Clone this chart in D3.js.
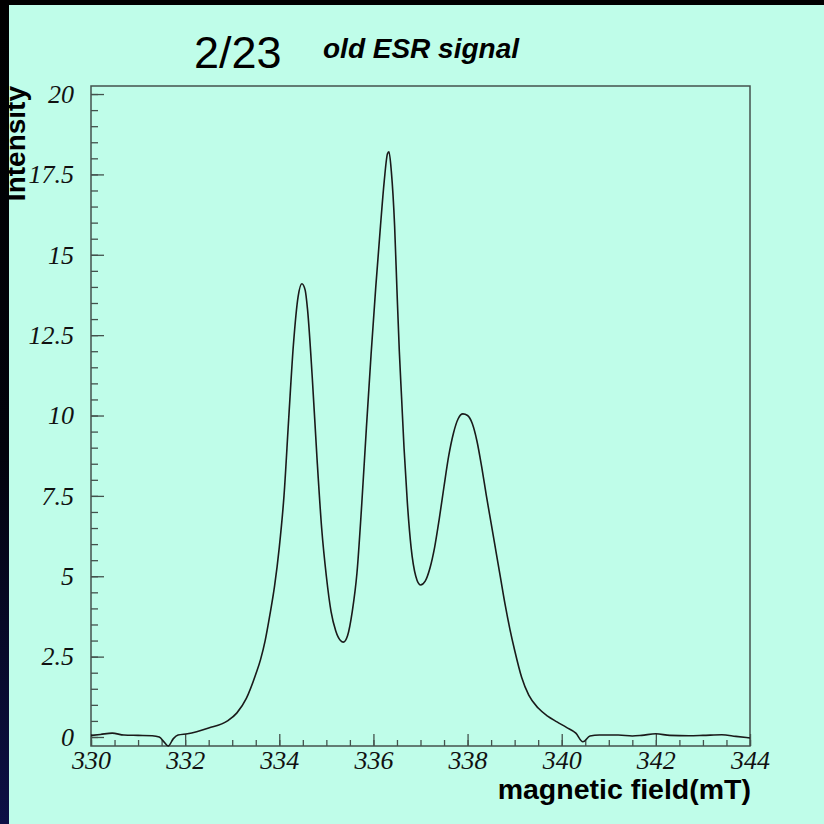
<!DOCTYPE html>
<html>
<head>
<meta charset="utf-8">
<script src="https://cdn.jsdelivr.net/npm/d3@7"></script>
<style>
  html, body { margin: 0; padding: 0; background: #000; }
  svg { display: block; }
</style>
</head>
<body>
<div id="chart"></div>
<script>
// magnetic field (mT) and intensity
var field = [330, 330.2, 330.45, 330.7, 331, 331.3, 331.45, 331.55, 331.64, 331.75, 331.85, 332.05,
  332.5, 332.9, 333.1, 333.3, 333.5, 333.6, 333.7, 333.8, 333.9, 334.0, 334.1, 334.2, 334.3, 334.4,
  334.48, 334.55, 334.6, 334.7, 334.8, 334.9, 335.0, 335.1, 335.2, 335.3, 335.36, 335.45, 335.55,
  335.65, 335.75, 335.85, 335.95, 336.05, 336.15, 336.23, 336.3, 336.33, 336.38, 336.45, 336.5,
  336.55, 336.6, 336.65, 336.72, 336.8, 336.9, 337.0, 337.1, 337.2, 337.3, 337.4, 337.5, 337.6,
  337.7, 337.8, 337.9, 338.0, 338.1, 338.2, 338.3, 338.4, 338.5, 338.6, 338.7, 338.8, 338.9,
  339.0, 339.15, 339.3, 339.5, 339.7, 339.9, 340.1, 340.3, 340.45, 340.6, 340.8, 341.2, 341.5,
  341.7, 342.0, 342.3, 342.7, 343.0, 343.4, 343.7, 344];
var intensity = [0.05, 0.08, 0.12, 0.06, 0.05, 0.04, 0.0, -0.15, -0.28, -0.05, 0.06, 0.1,
  0.28, 0.5, 0.75, 1.2, 1.95, 2.4, 3.0, 3.8, 4.7, 5.9, 7.5, 9.9, 12.2, 13.7,
  14.1, 13.9, 13.3, 11.2, 8.7, 6.5, 5.0, 3.9, 3.3, 3.0, 2.95, 3.15, 3.9,
  5.1, 7.2, 9.6, 11.9, 14.0, 15.9, 17.3, 18.15, 18.2, 17.6, 15.9, 13.9,
  12.0, 10.5, 9.0, 7.3, 5.9, 5.0, 4.73, 4.85, 5.25, 5.9, 6.8, 7.8, 8.75,
  9.45, 9.9, 10.05, 10.0, 9.75, 9.2, 8.4, 7.5, 6.65, 5.8, 4.95, 4.1, 3.35,
  2.7, 1.85, 1.3, 0.9, 0.65, 0.47, 0.3, 0.12, -0.15, 0.03, 0.06, 0.06, 0.03,
  0.05, 0.1, 0.05, 0.04, 0.05, 0.07, 0.02, -0.03];

var xMajor = [330, 332, 334, 336, 338, 340, 342, 344];
var yMajor = [0, 2.5, 5, 7.5, 10, 12.5, 15, 17.5, 20];

var data = field.map(function (f, i) { return {x: f, y: intensity[i]}; });

var W = 824, H = 824;
var frame = {left: 91, right: 750, top: 86, bottom: 746};

var x = d3.scaleLinear().domain([330, 344]).range([frame.left, frame.right]);
var y = d3.scaleLinear().domain([-0.28, 20.25]).range([frame.bottom, frame.top]);

var svg = d3.select("#chart").append("svg")
    .attr("width", W)
    .attr("height", H);

var defs = svg.append("defs");
var grad = defs.append("linearGradient")
    .attr("id", "band").attr("x1", 0).attr("y1", 0).attr("x2", 0).attr("y2", 1);
grad.append("stop").attr("offset", "0%").attr("stop-color", "#000000");
grad.append("stop").attr("offset", "55%").attr("stop-color", "#02030c");
grad.append("stop").attr("offset", "100%").attr("stop-color", "#0d1045");

// slide background
svg.append("rect").attr("width", W).attr("height", H).attr("fill", "#bffde9");

// y label (partly hidden by the slide edge)
svg.append("text")
    .attr("transform", "translate(25,86) rotate(-90)")
    .attr("text-anchor", "end")
    .style("font-family", "'Liberation Sans', Arial, sans-serif")
    .style("font-weight", "bold")
    .style("font-size", "28px")
    .text("Intensity");

svg.append("rect").attr("x", 0).attr("y", 0).attr("width", W).attr("height", 5).attr("fill", "#000");
svg.append("rect").attr("x", 0).attr("y", 0).attr("width", 9).attr("height", H).attr("fill", "url(#band)");

// titles
svg.append("text")
    .attr("x", 194).attr("y", 68)
    .style("font-family", "'Liberation Sans', Arial, sans-serif")
    .style("font-size", "45px")
    .text("2/23");

svg.append("text")
    .attr("x", 323).attr("y", 58)
    .style("font-family", "'Liberation Sans', Arial, sans-serif")
    .style("font-weight", "bold")
    .style("font-style", "italic")
    .style("font-size", "28px")
    .text("old ESR signal");

var g = svg.append("g");

// frame
g.append("rect")
    .attr("x", frame.left).attr("y", frame.top)
    .attr("width", frame.right - frame.left).attr("height", frame.bottom - frame.top)
    .attr("fill", "none")
    .attr("stroke", "#44524d")
    .attr("stroke-width", 1.5);

var axisFont = "'Liberation Serif', 'Times New Roman', serif";

// y axis: minor + major ticks inside the frame
g.append("g")
    .attr("transform", "translate(" + frame.left + ",0)")
    .call(d3.axisLeft(y).tickValues(d3.range(0, 20.01, 0.5)).tickSize(-7).tickFormat(""))
    .call(function (s) { s.select(".domain").remove(); });

g.append("g")
    .attr("class", "y axis")
    .attr("transform", "translate(" + frame.left + ",0)")
    .call(d3.axisLeft(y).tickValues(yMajor).tickSize(-13).tickPadding(17)
      .tickFormat(function (d) { return String(d); }))
    .call(function (s) { s.select(".domain").remove(); });

// x axis
g.append("g")
    .attr("transform", "translate(0," + frame.bottom + ")")
    .call(d3.axisBottom(x).tickValues(d3.range(330, 344.01, 0.5)).tickSize(-6).tickFormat(""))
    .call(function (s) { s.select(".domain").remove(); });

g.append("g")
    .attr("class", "x axis")
    .attr("transform", "translate(0," + frame.bottom + ")")
    .call(d3.axisBottom(x).tickValues(xMajor).tickSize(-12).tickPadding(5)
      .tickFormat(function (d) { return String(d); }))
    .call(function (s) { s.select(".domain").remove(); });

g.selectAll(".tick line").attr("stroke", "#44524d").attr("stroke-width", 1.3);
g.selectAll(".tick text")
    .attr("fill", "#111")
    .style("font-family", axisFont)
    .style("font-style", "italic")
    .style("font-size", "26px");

svg.append("text")
    .attr("x", 751).attr("y", 799)
    .attr("text-anchor", "end")
    .style("font-family", "'Liberation Sans', Arial, sans-serif")
    .style("font-weight", "bold")
    .style("font-size", "28.5px")
    .text("magnetic field(mT)");

// the signal
var line = d3.line()
    .x(function (d) { return x(d.x); })
    .y(function (d) { return y(d.y); })
    .curve(d3.curveMonotoneX);

g.append("path")
    .datum(data)
    .attr("fill", "none")
    .attr("stroke", "#1a1a1a")
    .attr("stroke-width", 1.6)
    .attr("d", line);
</script>
</body>
</html>
